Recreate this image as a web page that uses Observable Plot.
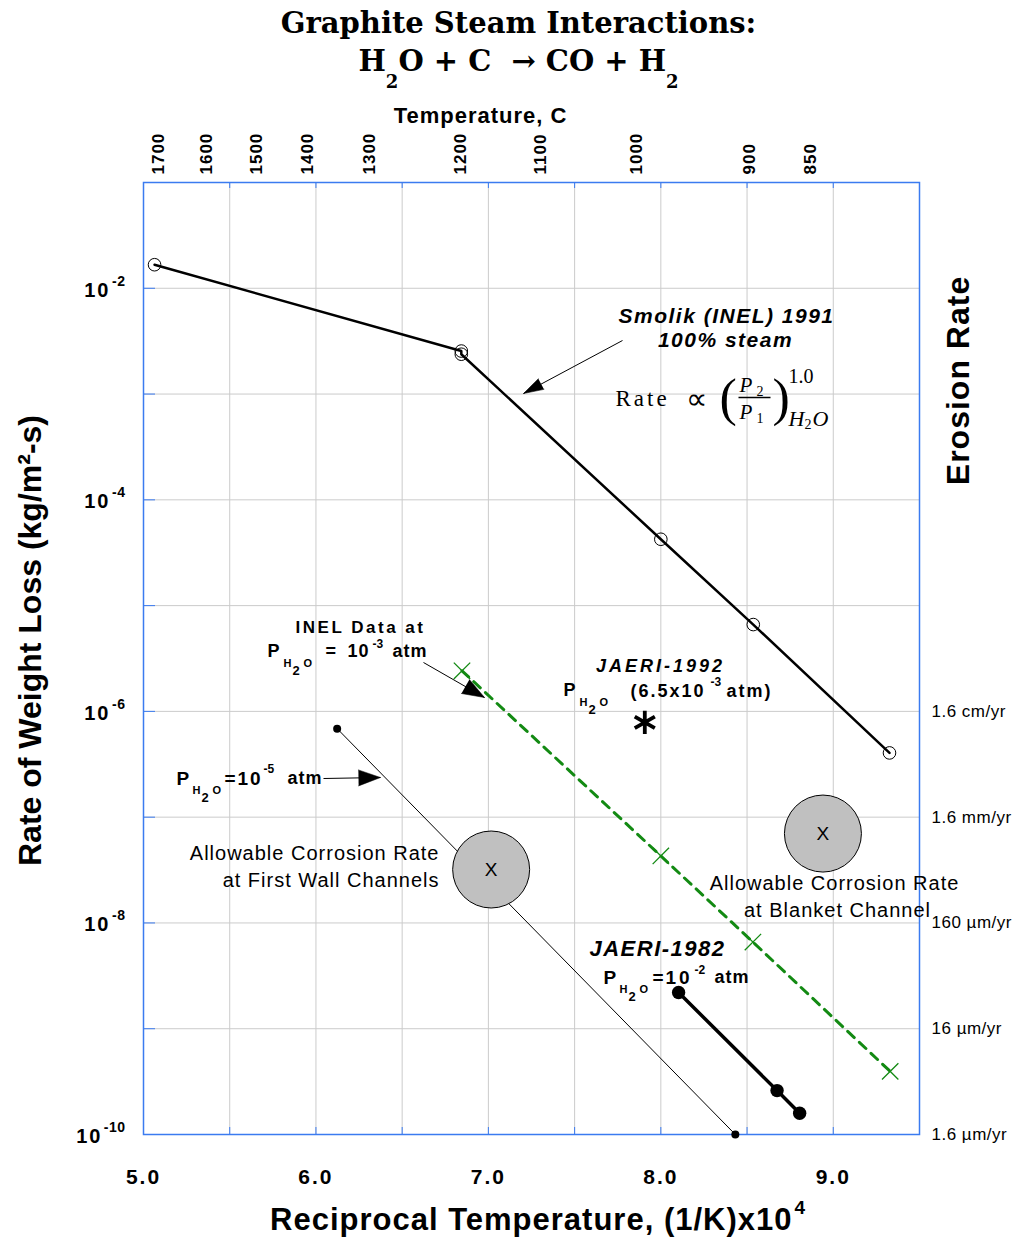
<!DOCTYPE html>
<html><head><meta charset="utf-8">
<script src="https://cdn.jsdelivr.net/npm/d3@7"></script>
<script src="https://cdn.jsdelivr.net/npm/@observablehq/plot@0.6"></script>
<style>
body{margin:0;background:#fff;}
#title{position:relative;height:95px;width:1015px;font-family:"DejaVu Serif",serif;font-weight:bold;color:#000;}
#title div{position:absolute;width:1015px;text-align:center;font-size:29px;line-height:29px;white-space:pre;}
#title .sub{position:relative;top:17px;font-size:18px;}
#chart svg{display:block;}
</style></head><body>
<div id="title">
  <div style="top:9px;left:11px;">Graphite Steam Interactions:</div>
  <div style="top:47px;left:11px;">H<span class="sub">2</span>O + C  → CO + H<span class="sub">2</span></div>
</div>
<div id="chart"></div>
<script>
// ---------------- data ----------------
const xDomain = [5, 9.5];
const yDomain = [1e-10, 1e-1];
const xTicks = [5, 6, 7, 8, 9];
const xGrid = [5.5, 6, 6.5, 7, 7.5, 8, 8.5, 9];
const yGrid = [1e-9, 1e-8, 1e-7, 1e-6, 1e-5, 1e-4, 1e-3, 1e-2];
const yTickMarks = [1e-10, 1e-9, 1e-8, 1e-7, 1e-6, 1e-5, 1e-4, 1e-3, 1e-2];
const yLabelExps = [-2, -4, -6, -8, -10];
const tempLabels = [1700, 1600, 1500, 1400, 1300, 1200, 1100, 1000, 900, 850];
const tempPos = [5.089, 5.365, 5.655, 5.949, 6.308, 6.838, 7.301, 7.861, 8.513, 8.871];
const erosionVals = [1e-6, 1e-7, 1e-8, 1e-9, 1e-10];
const erosionLabels = ["1.6 cm/yr", "1.6 mm/yr", "160 µm/yr", "16 µm/yr", "1.6 µm/yr"];

const smolikX = [5.064, 6.843, 6.843, 8.0, 8.536, 9.326];
const smolikY = [1.67e-2, 2.55e-3, 2.38e-3, 4.24e-5, 6.62e-6, 4.05e-7];
const inelX = [6.847, 8.0, 8.534, 9.33];
const inelY = [2.42e-6, 4.3e-8, 6.6e-9, 3.95e-10];
const lowX = [6.123, 8.432];
const lowY = [6.87e-7, 1.0e-10];
const jaeri82X = [8.103, 8.674, 8.805];
const jaeri82Y = [2.2e-9, 2.6e-10, 1.59e-10];
const jaeri92X = [7.907];
const jaeri92Y = [7.87e-7];
const allowX = [7.016, 8.940];
const allowY = [3.2e-8, 7.0e-8];

// ---------------- layout ----------------
const W = 1015, H = 1144, ML = 143, MR = 96, MT = 87, MB = 105, PAGE_TOP = 95;
const FL = ML, FR = W - MR, FT = PAGE_TOP + MT, FB = PAGE_TOP + H - MB;
const BLUE = "#3b7bf0", GRID = "#cbcbcb", GREEN = "#138a13";
const SANS = "Liberation Sans, Arial, Helvetica, sans-serif";
const SERIF = "Liberation Serif, Times New Roman, serif";
const lgMin = Math.log10(yDomain[0]), lgMax = Math.log10(yDomain[1]);
const X = px => xDomain[0] + (px - FL) / (FR - FL) * (xDomain[1] - xDomain[0]);
const Y = py => 10 ** (lgMin + (FB - py) / (FB - FT) * (lgMax - lgMin));
const zip = (xs, ys) => xs.map((x, i) => ({x, y: ys[i]}));

function T(str, px, py, o = {}) {
  const {ls, ...rest} = o;
  return Plot.text([str], {
    frameAnchor: "top-left", dx: px - FL, dy: py - FT, text: d => d,
    fontFamily: SANS, fill: "black", textAnchor: "start", lineAnchor: "middle",
    ariaDescription: ls ? `ls:${ls}` : "annotation", ...rest
  });
}
function arrow(px1, py1, px2, py2, len, r) {
  const angle = Math.atan2(px2 - px1, -(py2 - py1)) * 180 / Math.PI;
  return [
    Plot.link([0], {x1: () => X(px1), y1: () => Y(py1), x2: () => X(px2), y2: () => Y(py2), stroke: "black", strokeWidth: 1}),
    Plot.vector([0], {x: () => X(px2), y: () => Y(py2), rotate: angle, length: len, r, shape: "spike", anchor: "end", fill: "black", stroke: "black", strokeWidth: 0.5})
  ];
}
const B = {fontWeight: "bold"};
const BI = {fontWeight: "bold", fontStyle: "italic"};
function PH2O(px, py, sz) { // "P" with subscript "H2O"
  return [
    T("P", px, py, {...B, fontSize: sz}),
    T("H", px + 16, py + 12, {...B, fontSize: 11}),
    T("2", px + 25, py + 19, {...B, fontSize: 13}),
    T("O", px + 36, py + 12, {...B, fontSize: 11})
  ];
}

const smolik = zip(smolikX, smolikY);
const inel = zip(inelX, inelY);
const low = zip(lowX, lowY);
const jaeri82 = zip(jaeri82X, jaeri82Y);
const jaeri92 = zip(jaeri92X, jaeri92Y);
const allow = zip(allowX, allowY);

const chart = Plot.plot({
  width: W, height: H,
  marginLeft: ML, marginRight: MR, marginTop: MT, marginBottom: MB,
  x: {domain: xDomain, axis: null},
  y: {type: "log", domain: yDomain, axis: null},
  style: {fontFamily: SANS, background: "#fff", color: "black"},
  marks: [
    Plot.gridX(xGrid, {stroke: GRID, strokeOpacity: 1}),
    Plot.gridY(yGrid, {stroke: GRID, strokeOpacity: 1}),
    Plot.tickX(xGrid, {x: d => d, stroke: BLUE, insetTop: (FB - FT) - 7}),
    Plot.tickX(xGrid, {x: d => d, stroke: BLUE, insetBottom: (FB - FT) - 6}),
    Plot.tickY(yTickMarks, {y: d => d, stroke: BLUE, insetRight: (FR - FL) - 12}),
    Plot.frame({stroke: BLUE, strokeWidth: 1.5}),

    // axis labels
    Plot.text(xTicks, {x: d => d, frameAnchor: "bottom", lineAnchor: "middle", text: d => d.toFixed(1), dy: 43, fontSize: 21, fontWeight: "bold", ariaDescription: "ls:2"}),
    Plot.text(tempPos, {x: d => d, frameAnchor: "top", lineAnchor: "middle", text: (d, i) => String(tempLabels[i]), rotate: -90, textAnchor: "start", dy: -8, fontSize: 17, fontWeight: "bold", ariaDescription: "ls:1"}),
    Plot.text(erosionVals, {y: d => d, frameAnchor: "right", lineAnchor: "middle", text: (d, i) => erosionLabels[i], textAnchor: "start", dx: 12, fontSize: 17, ariaDescription: "ls:0.5"}),
    Plot.text(yLabelExps.filter(e => e > -10), {y: e => 10 ** e, frameAnchor: "left", lineAnchor: "middle", text: () => "10", textAnchor: "end", dx: -33, dy: 2, fontSize: 20, fontWeight: "bold", ariaDescription: "ls:2"}),
    Plot.text(yLabelExps.filter(e => e <= -10), {y: e => 10 ** e, frameAnchor: "left", lineAnchor: "middle", text: () => "10", textAnchor: "end", dx: -41, dy: 2, fontSize: 20, fontWeight: "bold", ariaDescription: "ls:2"}),
    Plot.text(yLabelExps, {y: e => 10 ** e, frameAnchor: "left", lineAnchor: "middle", text: e => String(e), textAnchor: "end", dx: -18, dy: -7, fontSize: 14, fontWeight: "bold", ariaDescription: "ls:0.5"}),

    // axis titles
    T("Temperature, C", 480, 115, {...B, fontSize: 22, textAnchor: "middle", ls: 1}),
    T("Rate of Weight Loss (kg/m²-s)", 30, 640, {...B, fontSize: 32, textAnchor: "middle", rotate: -90}),
    T("Erosion Rate", 958, 380, {...B, fontSize: 32, textAnchor: "middle", rotate: -90, ls: 1}),
    T("Reciprocal Temperature, (1/K)x10", 792, 1220, {...B, fontSize: 31, textAnchor: "end", ls: 1}),
    T("4", 794, 1207, {...B, fontSize: 19}),

    // data
    Plot.line(low, {x: "x", y: "y", stroke: "black", strokeWidth: 1}),
    Plot.dot(low, {x: "x", y: "y", r: 4, fill: "black"}),
    Plot.line(inel, {x: "x", y: "y", stroke: GREEN, strokeWidth: 3, strokeDasharray: "9,7"}),
    Plot.dot(inel, {x: "x", y: "y", symbol: "times", r: 7.5, stroke: GREEN, strokeWidth: 1.3}),
    Plot.line(smolik, {x: "x", y: "y", stroke: "black", strokeWidth: 2.5}),
    Plot.dot(smolik, {x: "x", y: "y", r: 6.3, stroke: "black", strokeWidth: 1, fill: "none"}),
    Plot.line(jaeri82, {x: "x", y: "y", stroke: "black", strokeWidth: 3.5}),
    Plot.dot(jaeri82, {x: "x", y: "y", r: 6.7, fill: "black"}),
    Plot.dot(jaeri92, {x: "x", y: "y", symbol: "asterisk", r: 11, stroke: "black", strokeWidth: 3.8}),
    Plot.dot(allow, {x: "x", y: "y", r: 38.5, fill: "#c0c0c0", stroke: "black", strokeWidth: 1}),
    Plot.text(allow, {x: "x", y: "y", text: () => "X", fontSize: 19, fill: "black"}),

    // Smolik annotation
    T("Smolik (INEL) 1991", 726, 316, {...BI, fontSize: 21, textAnchor: "middle", ls: 1.5}),
    T("100% steam", 725, 340, {...BI, fontSize: 21, textAnchor: "middle", ls: 1.5}),
    ...arrow(622, 340, 523, 393, 20, 6),
    // formula
    T("Rate", 615, 398, {fontFamily: SERIF, fontSize: 23, ls: 3}),
    T("∝", 685, 399, {fontFamily: SERIF, fontSize: 30}),
    T("(", 719, 398, {fontFamily: SERIF, fontSize: 52}),
    T("P", 739, 385, {fontFamily: SERIF, fontStyle: "italic", fontSize: 21}),
    T("2", 756, 391, {fontFamily: SERIF, fontSize: 14}),
    Plot.link([0], {x1: () => X(738), y1: () => Y(397), x2: () => X(770), y2: () => Y(397), stroke: "black", strokeWidth: 1.3}),
    T("P", 739, 412, {fontFamily: SERIF, fontStyle: "italic", fontSize: 21}),
    T("1", 756, 418, {fontFamily: SERIF, fontSize: 14}),
    T(")", 772, 398, {fontFamily: SERIF, fontSize: 52}),
    T("1.0", 788, 376, {fontFamily: SERIF, fontSize: 20}),
    T("H", 788, 418, {fontFamily: SERIF, fontStyle: "italic", fontSize: 22}),
    T("2", 804, 424, {fontFamily: SERIF, fontSize: 14}),
    T("O", 812, 418, {fontFamily: SERIF, fontStyle: "italic", fontSize: 22}),

    // INEL annotation
    T("INEL Data at", 360, 627, {...B, fontSize: 17, textAnchor: "middle", ls: 2.5}),
    ...PH2O(267, 651, 18),
    T("=", 325, 651, {...B, fontSize: 18}),
    T("10", 347, 651, {...B, fontSize: 18, ls: 1}),
    T("-3", 372, 644, {...B, fontSize: 12}),
    T("atm", 392, 651, {...B, fontSize: 18, ls: 1}),
    ...arrow(423, 662, 484, 697, 22, 8),

    // JAERI-1992
    T("JAERI-1992", 660, 666, {...BI, fontSize: 18, textAnchor: "middle", ls: 3}),
    ...PH2O(563, 690, 18),
    T("(6.5x10", 630, 691, {...B, fontSize: 18, ls: 2}),
    T("-3", 710, 682, {...B, fontSize: 12}),
    T("atm)", 726, 691, {...B, fontSize: 18, ls: 2}),

    // P = 1e-5
    ...PH2O(176, 778, 19),
    T("=", 224, 778, {...B, fontSize: 19}),
    T("10", 237, 778, {...B, fontSize: 19, ls: 2}),
    T("-5", 263, 769, {...B, fontSize: 12}),
    T("atm", 287, 778, {...B, fontSize: 18, ls: 1}),
    ...arrow(323, 778, 380, 777, 22, 8),

    // allowable corrosion
    T("Allowable Corrosion Rate", 439, 853, {fontSize: 20, textAnchor: "end", ls: 1}),
    T("at First Wall Channels", 439, 880, {fontSize: 20, textAnchor: "end", ls: 1}),
    T("Allowable Corrosion Rate", 834, 883, {fontSize: 20, textAnchor: "middle", ls: 1}),
    T("at Blanket Channel", 837, 910, {fontSize: 20, textAnchor: "middle", ls: 1}),

    // JAERI-1982
    T("JAERI-1982", 657, 948, {...BI, fontSize: 22, textAnchor: "middle", ls: 1.5}),
    ...PH2O(603, 977, 19),
    T("=", 652, 977, {...B, fontSize: 19}),
    T("10", 665, 977, {...B, fontSize: 19, ls: 3}),
    T("-2", 694, 970, {...B, fontSize: 12}),
    T("atm", 714, 977, {...B, fontSize: 18, ls: 1})
  ]
});

chart.querySelectorAll('g[aria-description^="ls:"]').forEach(g => {
  const v = g.getAttribute("aria-description").slice(3);
  g.querySelectorAll("text").forEach(t => t.style.letterSpacing = v + "px");
});
document.getElementById("chart").appendChild(chart);
</script>
</body></html>
